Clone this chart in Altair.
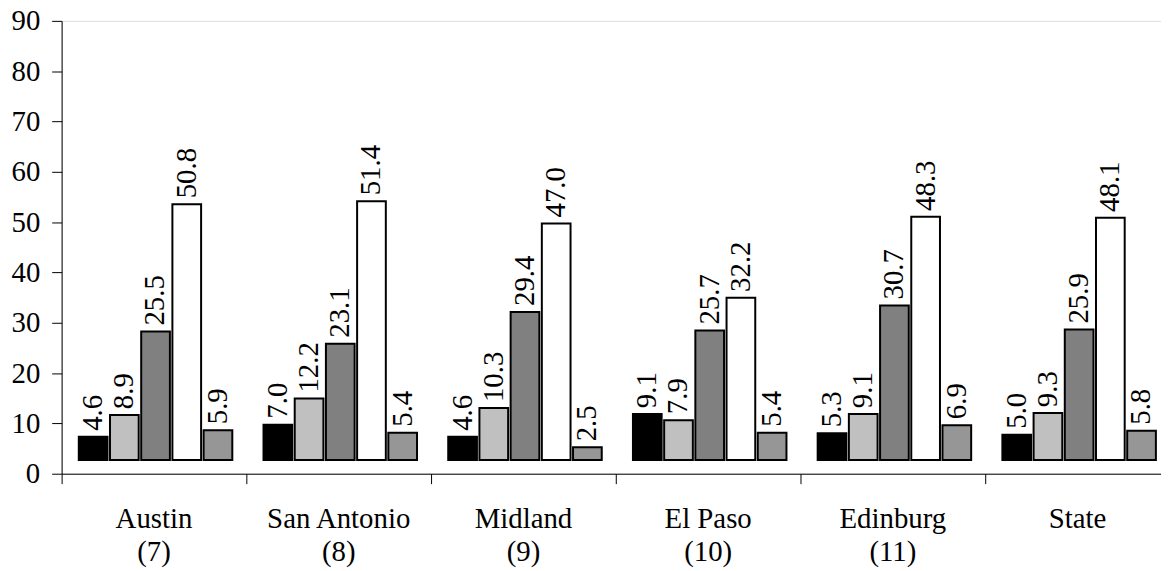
import altair as alt
import pandas as pd

categories = ["Austin|(7)", "San Antonio|(8)", "Midland|(9)", "El Paso|(10)", "Edinburg|(11)", "State"]
series = ["s1", "s2", "s3", "s4", "s5"]
s1 = [4.6, 7.0, 4.6, 9.1, 5.3, 5.0]
s2 = [8.9, 12.2, 10.3, 7.9, 9.1, 9.3]
s3 = [25.5, 23.1, 29.4, 25.7, 30.7, 25.9]
s4 = [50.8, 51.4, 47.0, 32.2, 48.3, 48.1]
s5 = [5.9, 5.4, 2.5, 5.4, 6.9, 5.8]
colors = ["#000000", "#c0c0c0", "#808080", "#ffffff", "#969696"]

BASE = 2.75  # bars float slightly above the zero line in the original
FONT = "Liberation Serif"

rows = []
for sname, vals in zip(series, [s1, s2, s3, s4, s5]):
    for c, v in zip(categories, vals):
        rows.append({"cat": c, "series": sname, "value": v})
df = pd.DataFrame(rows)

base = alt.Chart(df).transform_calculate(
    top=f"datum.value + {BASE}", bottom=f"{BASE}"
)

x_enc = alt.X(
    "cat:N",
    sort=categories,
    scale=alt.Scale(range=[0, 1116], paddingInner=0, paddingOuter=0),
    axis=alt.Axis(
        title=None,
        bandPosition=0,
        labelAngle=0,
        tickSize=10,
        tickColor="black",
        domainColor="black",
        labelFont=FONT,
        labelFontSize=29,
        labelColor="black",
        labelPadding=21,
        labelLineHeight=33,
        labelExpr="split(datum.label, '|')",
    ),
)
xo_enc = alt.XOffset(
    "series:N",
    sort=series,
    scale=alt.Scale(paddingInner=0.08, paddingOuter=0.5, align=0.55),
)
y_scale = alt.Scale(domain=[0, 90], nice=False)
y_axis = alt.Axis(
    title=None,
    values=list(range(0, 100, 10)),
    tickSize=10,
    tickColor="black",
    domainColor="black",
    grid=False,
    labelFont=FONT,
    labelFontSize=29,
    labelColor="black",
    labelPadding=12,
)

bars = base.mark_bar(stroke="black", strokeWidth=2).encode(
    x=x_enc,
    xOffset=xo_enc,
    y=alt.Y("top:Q", scale=y_scale, axis=y_axis),
    y2="bottom:Q",
    color=alt.Color("series:N", scale=alt.Scale(domain=series, range=colors), legend=None),
)

labels = base.mark_text(
    angle=270, align="left", baseline="middle", dx=6, font=FONT, fontSize=29, color="black"
).encode(
    x=x_enc,
    xOffset=xo_enc,
    y=alt.Y("top:Q", scale=y_scale, axis=y_axis),
    text=alt.Text("value:Q", format=".1f"),
)

chart = (
    alt.layer(bars, labels)
    .properties(
        width=1107,
        height=456,
        autosize=alt.AutoSizeParams(type="none"),
        padding={"left": 54, "top": 11, "right": 0, "bottom": 96},
    )
    .configure_view(stroke=None)
    .configure_axis(labelFont=FONT)
    .configure_text(font=FONT)
    .configure(font=FONT)
)

chart.save("out.html", embed_options={"renderer": "svg", "actions": False})
